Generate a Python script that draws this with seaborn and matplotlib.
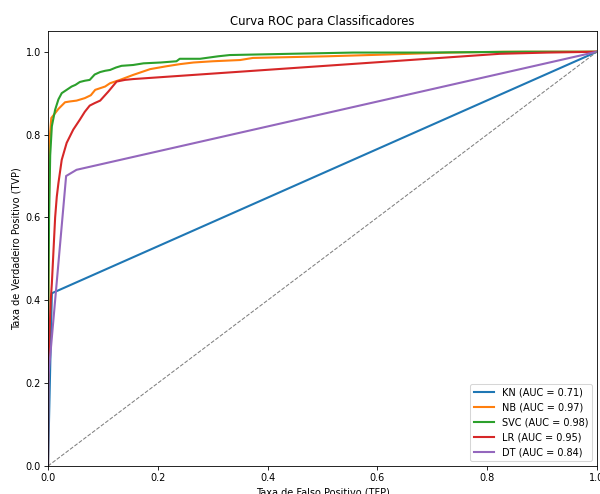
import matplotlib
matplotlib.use("Agg")
import matplotlib.pyplot as plt
import seaborn as sns

# ROC points
models = ["KN", "NB", "SVC", "LR", "DT"]
auc_scores = [0.71, 0.97, 0.98, 0.95, 0.84]

fpr_kn = [0.0, 0.007, 1.0]
tpr_kn = [0.0, 0.417, 1.0]

fpr_nb = [0.0, 0.001, 0.003, 0.006, 0.012, 0.019, 0.031, 0.040, 0.052, 0.067,
          0.078, 0.086, 0.104, 0.113, 0.131, 0.155, 0.186, 0.216, 0.240, 0.265,
          0.300, 0.350, 0.373, 0.508, 0.610, 0.730, 0.830, 1.0]
tpr_nb = [0.0, 0.55, 0.79, 0.84, 0.85, 0.862, 0.878, 0.880, 0.882, 0.888,
          0.895, 0.908, 0.916, 0.924, 0.932, 0.944, 0.958, 0.965, 0.970, 0.974,
          0.977, 0.980, 0.985, 0.989, 0.993, 0.998, 1.0, 1.0]

fpr_svc = [0.0, 0.0, 0.002, 0.004, 0.007, 0.013, 0.019, 0.025, 0.034, 0.043,
           0.050, 0.058, 0.067, 0.076, 0.085, 0.095, 0.104, 0.113, 0.124, 0.134,
           0.155, 0.174, 0.205, 0.234, 0.240, 0.277, 0.310, 0.331, 0.440, 0.556,
           0.690, 0.870, 1.0]
tpr_svc = [0.0, 0.30, 0.60, 0.75, 0.82, 0.86, 0.885, 0.900, 0.908, 0.916,
           0.920, 0.927, 0.930, 0.932, 0.945, 0.951, 0.954, 0.956, 0.962, 0.966,
           0.968, 0.972, 0.974, 0.977, 0.983, 0.983, 0.989, 0.992, 0.995, 0.998,
           0.998, 1.0, 1.0]

fpr_lr = [0.0, 0.0, 0.003, 0.005, 0.007, 0.010, 0.013, 0.016, 0.019, 0.025,
          0.034, 0.046, 0.058, 0.067, 0.076, 0.085, 0.095, 0.110, 0.125, 0.140,
          0.155, 0.823, 0.910, 1.0]
tpr_lr = [0.0, 0.20, 0.33, 0.40, 0.44, 0.52, 0.60, 0.65, 0.683, 0.739,
          0.780, 0.812, 0.836, 0.855, 0.870, 0.876, 0.882, 0.904, 0.928, 0.932,
          0.934, 0.995, 0.998, 1.0]

fpr_dt = [0.0, 0.001, 0.033, 0.052, 1.0]
tpr_dt = [0.0, 0.22, 0.70, 0.715, 1.0]

fprs = [fpr_kn, fpr_nb, fpr_svc, fpr_lr, fpr_dt]
tprs = [tpr_kn, tpr_nb, tpr_svc, tpr_lr, tpr_dt]

plt.rcParams["font.size"] = 9.4
plt.rcParams["axes.titlesize"] = 11.2

fig = plt.figure(figsize=(8, 494 / 75), dpi=75)
ax = fig.add_axes([0.08, 0.0567, 0.915, 0.8805])

for name, auc, fpr, tpr in zip(models, auc_scores, fprs, tprs):
    sns.lineplot(x=fpr, y=tpr, ax=ax, sort=False, estimator=None, lw=2,
                 label=f"{name} (AUC = {auc:.2f})")

# reference diagonal
sns.lineplot(x=[0, 1], y=[0, 1], ax=ax, color="gray", linestyle="--", lw=1,
             legend=False)

ax.set_xlim(0.0, 1.0)
ax.set_ylim(0.0, 1.05)
ax.set_xlabel("Taxa de Falso Positivo (TFP)")
ax.set_ylabel("Taxa de Verdadeiro Positivo (TVP)")
ax.set_title("Curva ROC para Classificadores")
ax.legend(loc="lower right")

fig.savefig("out.png", dpi=75)
